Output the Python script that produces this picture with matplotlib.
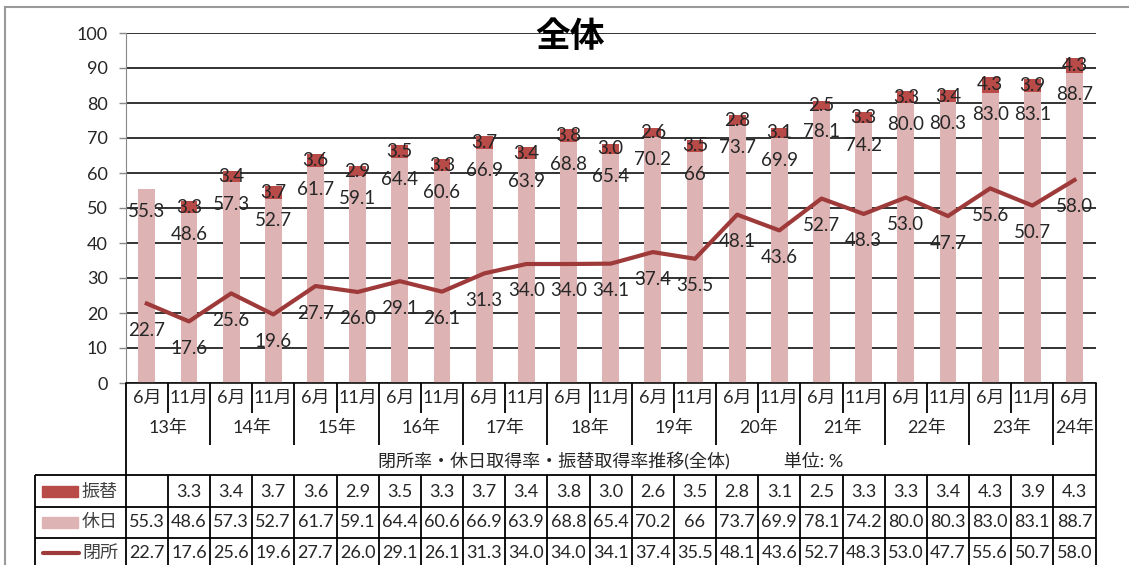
import numpy as np
import matplotlib
matplotlib.use('Agg')
import matplotlib.pyplot as plt
from matplotlib.transforms import blended_transform_factory
from matplotlib.lines import Line2D
from matplotlib.patches import Rectangle

# ---------------- data ----------------
months = ['6月', '11月'] * 11 + ['6月']
years = ['13年', '14年', '15年', '16年', '17年', '18年', '19年', '20年',
         '21年', '22年', '23年', '24年']
cat_year = [y for y in years[:-1] for _ in range(2)] + [years[-1]]

furikae = [None, 3.3, 3.4, 3.7, 3.6, 2.9, 3.5, 3.3, 3.7, 3.4, 3.8, 3.0,
           2.6, 3.5, 2.8, 3.1, 2.5, 3.3, 3.3, 3.4, 4.3, 3.9, 4.3]
kyujitsu = [55.3, 48.6, 57.3, 52.7, 61.7, 59.1, 64.4, 60.6, 66.9, 63.9, 68.8,
            65.4, 70.2, 66, 73.7, 69.9, 78.1, 74.2, 80.0, 80.3, 83.0, 83.1, 88.7]
heisho = [22.7, 17.6, 25.6, 19.6, 27.7, 26.0, 29.1, 26.1, 31.3, 34.0, 34.0,
          34.1, 37.4, 35.5, 48.1, 43.6, 52.7, 48.3, 53.0, 47.7, 55.6, 50.7, 58.0]
series_names = ['振替', '休日', '閉所']
title = '全体'
caption = '閉所率・休日取得率・振替取得率推移(全体)　　　単位: %'
yticks = [0, 10, 20, 30, 40, 50, 60, 70, 80, 90, 100]

# ---------------- style ----------------
plt.rcParams['font.family'] = ['Lato', 'Noto Sans CJK JP', 'DejaVu Sans']
c_hol = '#DDB3B3'
c_sub = '#B84A48'
c_clo = '#9E3A3A'
txt = '#262626'

W, H = 1129, 565
fig = plt.figure(figsize=(W / 100, H / 100), dpi=100)
PX2PT = 72 / 100

ax_l, ax_r, ax_t, ax_b = 125.7, 1095.6, 33, 383
ax = fig.add_axes([ax_l / W, 1 - ax_b / H, (ax_r - ax_l) / W, (ax_b - ax_t) / H], zorder=1)
ov = fig.add_axes([0, 0, 1, 1], zorder=2)
ov.set_xlim(0, W)
ov.set_ylim(H, 0)
ov.axis('off')
ov.patch.set_alpha(0)

n = len(months)
x = np.arange(n)
hol = np.array(kyujitsu, float)
sub = np.array([np.nan if v is None else v for v in furikae], float)

ax.bar(x, hol, 0.4, color=c_hol, zorder=2)
ax.bar(x, sub, 0.4, bottom=hol, color=c_sub, zorder=2)
ax.plot(x, heisho, color=c_clo, lw=3.0, zorder=3)

ax.set_xlim(-0.5, n - 0.5)
ax.set_ylim(0, 100)
ax.set_yticks(yticks)
ax.set_xticks([])
ax.yaxis.grid(True, color='#111111', lw=1.2)
ax.set_axisbelow(True)
for s in ['top', 'right']:
    ax.spines[s].set_visible(False)
ax.spines['left'].set_color('#888888')
ax.spines['bottom'].set_color('#111111')
ax.spines['bottom'].set_linewidth(1.2)
ax.tick_params(axis='y', colors='#888888', length=5, width=1, pad=8,
               labelsize=13, labelcolor=txt)

# data labels
LFS = 13.5
for i in range(n):
    ax.annotate(str(kyujitsu[i]), (i, hol[i]), xytext=(0, -22 * PX2PT),
                textcoords='offset points', ha='center', va='center',
                fontsize=LFS, color=txt, zorder=6)
    if furikae[i] is not None:
        ax.annotate(str(furikae[i]), (i, hol[i] + sub[i] / 2), ha='center',
                    va='center', fontsize=LFS, color=txt, zorder=6)
    ax.annotate(str(heisho[i]), (i, heisho[i]), xytext=(0, -27 * PX2PT),
                textcoords='offset points', ha='center', va='center',
                fontsize=LFS, color=txt, zorder=6)

fig.text(570 / W, 1 - 37 / H, title, ha='center', va='center', fontsize=25,
         fontweight='bold', color='black', zorder=10)

# ---------------- axis label area + table ----------------
bt = blended_transform_factory(ax.transData, ov.transData)
lk = dict(color='black', lw=1.3, solid_capstyle='butt')

y_axis, y_mon_end, y_year_end, y_tab, y_r1, y_r2, y_end = 383, 413, 445, 475, 507, 538, 566

for xb in (-0.5, n - 0.5):
    ov.add_line(Line2D([xb, xb], [y_axis, y_end], transform=bt, **lk))
for i in range(n - 1):
    xb = i + 0.5
    yend = y_mon_end if cat_year[i] == cat_year[i + 1] else y_year_end
    ov.add_line(Line2D([xb, xb], [y_axis, yend], transform=bt, **lk))
    ov.add_line(Line2D([xb, xb], [y_tab, y_end], transform=bt, **lk))

for yy in (y_tab, y_r1, y_r2):
    ov.add_line(Line2D([35, ax_r], [yy, yy], **lk))
ov.add_line(Line2D([35, 35], [y_tab, y_end], **lk))

TFS = 13
for i in range(n):
    ov.text(i, 398, months[i], transform=bt, ha='center', va='center',
            fontsize=TFS, color=txt)
for yname in years:
    idx = [i for i in range(n) if cat_year[i] == yname]
    ov.text(np.mean(idx), 428, yname, transform=bt, ha='center', va='center',
            fontsize=TFS, color=txt)
ov.text((n - 1) / 2, 461, caption, transform=bt, ha='center', va='center',
        fontsize=TFS, color=txt)

rows = [(furikae, 492), (kyujitsu, 522), (heisho, 553)]
for vals, yy in rows:
    for i, v in enumerate(vals):
        if v is None:
            continue
        ov.text(i, yy, str(v), transform=bt, ha='center', va='center',
                fontsize=TFS, color=txt)

ov.add_patch(Rectangle((42, 486), 36, 11, color=c_sub))
ov.add_patch(Rectangle((42, 517), 36, 11, color=c_hol))
ov.add_line(Line2D([43, 79], [553, 553], color=c_clo, lw=3, solid_capstyle='round'))
for name, yy in zip(series_names, (492, 522, 553)):
    ov.text(82, yy, name, ha='left', va='center', fontsize=13, color='#404040')

bk = dict(color='#999999', lw=1.5)
ov.add_line(Line2D([5, W], [7, 7], **bk))
ov.add_line(Line2D([5, 5], [7, H], **bk))

fig.savefig('out.png', dpi=100)
